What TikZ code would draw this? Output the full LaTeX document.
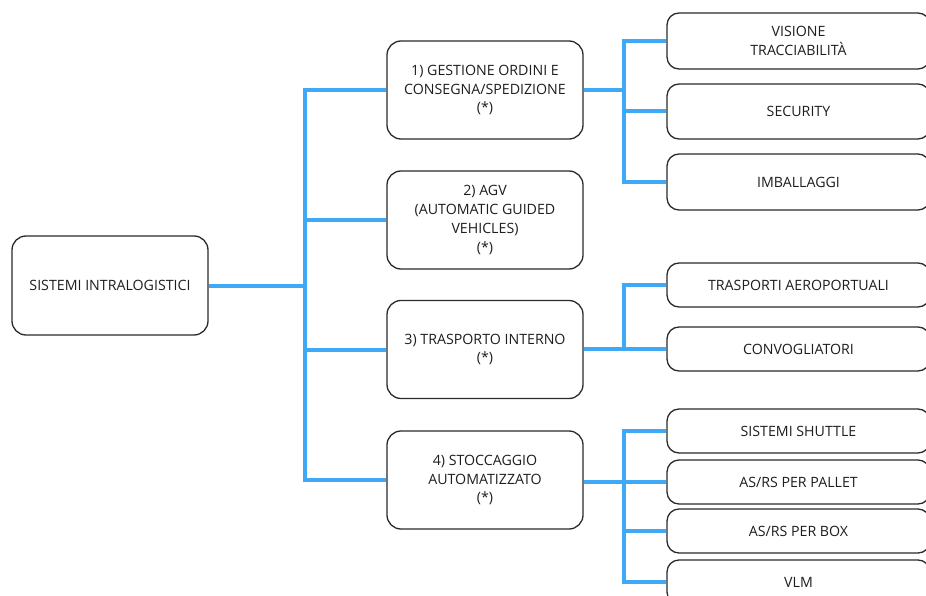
\documentclass[tikz,border=0pt]{standalone}
\usepackage{fontspec}
\setmainfont{Open Sans}
\definecolor{conn}{HTML}{3FA9F5}
\definecolor{edgec}{HTML}{2B2B2B}
\definecolor{txt}{HTML}{1E1E1E}
\begin{document}
\begin{tikzpicture}[x=1pt,y=-1pt,
  box/.style={draw=edgec, line width=1.3pt, rounded corners=14pt, fill=white,
    align=center, font=\fontsize{14.2}{18.7}\selectfont, text=txt, inner sep=0pt},
  lvl/.style={box, minimum width=196pt, minimum height=98pt},
  leaf/.style={box, rounded corners=12pt, minimum width=263pt},
  link/.style={draw=conn, line width=4pt}]
\useasboundingbox (0,0) rectangle (926,596);
\clip (0,0) rectangle (926,596);
\fill[white] (0,0) rectangle (926,596);

\node[box, minimum width=196pt, minimum height=99pt] (root) at (110,285.5) {SISTEMI INTRALOGISTICI};

\node[lvl] (l1) at (485,90) {1) GESTIONE ORDINI E\\CONSEGNA/SPEDIZIONE\\(*)};
\node[lvl] (l2) at (485,220) {2) AGV\\(AUTOMATIC GUIDED\\VEHICLES)\\(*)};
\node[lvl] (l3) at (485,349.5) {3) TRASPORTO INTERNO\\(*)};
\node[lvl] (l4) at (485,480) {4) STOCCAGGIO\\AUTOMATIZZATO\\(*)};

\node[leaf, minimum height=56pt] (a1) at (798.5,41) {VISIONE\\TRACCIABILITÀ};
\node[leaf, minimum height=55pt] (a2) at (798.5,111.5) {SECURITY};
\node[leaf, minimum height=56pt] (a3) at (798.5,182) {IMBALLAGGI};

\node[leaf, minimum height=44pt] (c1) at (798.5,285) {TRASPORTI AEROPORTUALI};
\node[leaf, minimum height=44pt] (c2) at (798.5,349) {CONVOGLIATORI};

\node[leaf, minimum height=44pt] (d1) at (798.5,431) {SISTEMI SHUTTLE};
\node[leaf, minimum height=44pt] (d2) at (798.5,482) {AS/RS PER PALLET};
\node[leaf, minimum height=44pt] (d3) at (798.5,531) {AS/RS PER BOX};
\node[leaf, minimum height=44pt] (d4) at (798.5,582) {VLM};

\coordinate (b0) at (305,285.5);
\coordinate (b1) at (624,90);
\coordinate (b3) at (624,349);
\coordinate (b4) at (624,482);

% root bus
\draw[link] (root.east) -- (root.east -| b0);
\draw[link, line cap=rect] (b0 |- l1.west) -- (b0 |- l4.west);
\foreach \n in {l1,l2,l3,l4} \draw[link] (b0 |- \n.west) -- (\n.west);

% group 1
\draw[link] (l1.east) -- (l1.east -| b1);
\draw[link, line cap=rect] (b1 |- a1.west) -- (b1 |- a3.west);
\foreach \n in {a1,a2,a3} \draw[link] (b1 |- \n.west) -- (\n.west);

% group 3
\draw[link] (c2.west -| l3.east) -- (c2.west);
\draw[link, line cap=rect] (b3 |- c1.west) -- (b3 |- c2.west);
\draw[link] (b3 |- c1.west) -- (c1.west);

% group 4
\draw[link] (d2.west -| l4.east) -- (d2.west);
\draw[link, line cap=rect] (b4 |- d1.west) -- (b4 |- d4.west);
\foreach \n in {d1,d3,d4} \draw[link] (b4 |- \n.west) -- (\n.west);
\end{tikzpicture}
\end{document}
